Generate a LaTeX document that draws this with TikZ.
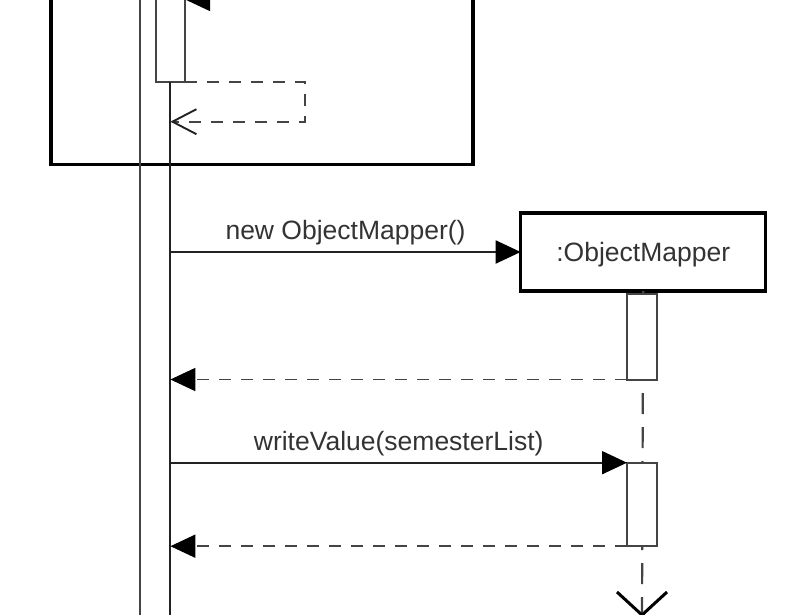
\documentclass[tikz,border=0pt]{standalone}
\usepackage{fontspec}
\setmainfont{Liberation Sans}
\usetikzlibrary{arrows.meta,calc}
\definecolor{txt}{HTML}{333333}
\definecolor{ln}{HTML}{222222}
\definecolor{dl}{HTML}{444444}
\begin{document}
\begin{tikzpicture}[x=1pt,y=-1pt,
  font=\fontsize{26.5}{30}\selectfont,
  framebox/.style={draw=black, line width=3.2pt, inner sep=0pt, outer sep=0pt},
  objbox/.style={draw=black, line width=3.2pt, fill=white, inner sep=0pt, outer sep=0pt, text=txt},
  act/.style={draw=dl, line width=2pt, fill=white, inner sep=0pt, outer sep=0pt, minimum width=30pt},
  msg/.style={draw=ln, line width=1.9pt, -{Triangle[length=25pt,width=23pt,color=black]}},
  ret/.style={draw=dl, line width=1.9pt, dash pattern=on 12pt off 10pt, -{Triangle[length=25pt,width=23pt,color=black]}},
  selfret/.style={draw=dl, line width=1.9pt, dash pattern=on 12pt off 10pt, -{Straight Barb[length=24pt,width=25pt,color=ln]}},
  outerline/.style={draw=dl, line width=2.4pt},
  mainline/.style={draw=ln, line width=1.9pt},
  lifeline/.style={draw=dl, line width=2.2pt, dash pattern=on 21pt off 13pt},
  vhead/.style={draw=black, line width=3pt},
  lbl/.style={anchor=base, text=txt, inner sep=0pt}
]
\useasboundingbox (0,0) rectangle (803,615);

% frame (combined fragment)
\node[framebox, anchor=north west, minimum width=422pt, minimum height=224.5pt] (frame) at (51,-60) {};

% lifelines of the caller
\coordinate (l1t) at (140,-10);
\coordinate (l1b) at (140,615);
\draw[outerline] (l1t) -- (l1b);

\node[act, anchor=north, minimum width=29.5pt, minimum height=92pt] (act1) at (170.4,-10) {};
\coordinate (l2b) at (170.4,615);
\draw[mainline] (act1.south) -- (l2b);

% self call and its return
\coordinate (sc0) at (307,-30);
\coordinate (sc1) at (307,-0.5);
\draw[msg] (sc0) -- (sc1) -- (sc1 -| act1.east);
\coordinate (sr1) at (305,82);
\coordinate (sr2) at (305,121.7);
\draw[selfret] (act1.south east) -- (sr1) -- (sr2) -- (sr2 -| act1.south);

% ObjectMapper
\node[objbox, minimum width=245pt, minimum height=78pt, text height=19pt, text depth=0pt] (om) at (643.2,252) {:ObjectMapper};
\coordinate (l3b) at (642,615);
\draw[lifeline] (om.south) -- (l3b);
\node[act, anchor=north, minimum height=86pt] (act2) at (642,293.5) {};
\node[act, anchor=north, minimum height=83.5pt] (act3) at (642,462.7) {};

% messages
\draw[msg] (act1.south |- om.west) -- node[lbl, yshift=13pt] {new ObjectMapper()} (om.west);
\draw[ret] (act2.south west) -- (act1.south |- act2.south west);
\draw[msg] (act1.south |- act3.north west) -- node[lbl, yshift=12pt] {writeValue(semesterList)} (act3.north west);
\draw[ret] (act3.south west) -- (act1.south |- act3.south west);

% end of lifeline
\draw[vhead] ($(l3b)+(-25,-23)$) -- (l3b) -- ($(l3b)+(25,-23)$);
\end{tikzpicture}
\end{document}
